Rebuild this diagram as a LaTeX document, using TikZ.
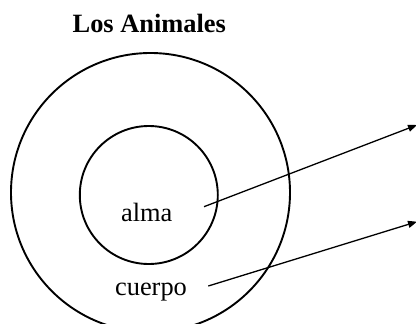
\documentclass[tikz,border=0pt]{standalone}
\usepackage{fontspec}
\setmainfont{Liberation Serif}
\usetikzlibrary{arrows.meta}
\begin{document}
\begin{tikzpicture}[x=1bp,y=-1bp,
  ring/.style={draw=black,line width=1.9bp},
  lbl/.style={anchor=base,inner sep=0pt,font=\fontsize{26.4bp}{30bp}\selectfont},
  ptr/.style={draw=black,line width=1.3bp,-{Triangle[length=9bp,width=7bp]}}]
\useasboundingbox (0,0) rectangle (416,324);
\begin{scope}
\clip (0,0) rectangle (416,324);
\draw[ring] (150.5,192.5) circle[radius=139.5];
\draw[ring] (148.8,195) circle[radius=69];
\end{scope}
\node[lbl,font=\fontsize{26.4bp}{30bp}\selectfont\bfseries] (title) at (149.3,32.3) {Los Animales};
\node[lbl] (alma) at (146.7,221.7) {alma};
\node[lbl] (cuerpo) at (151,295) {cuerpo};
\coordinate (a1) at (204,206.7);
\coordinate (a2) at (417,125);
\coordinate (c1) at (208.3,286);
\coordinate (c2) at (417,221.7);
\draw[ptr] (a1) -- (a2);
\draw[ptr] (c1) -- (c2);
\end{tikzpicture}
\end{document}
